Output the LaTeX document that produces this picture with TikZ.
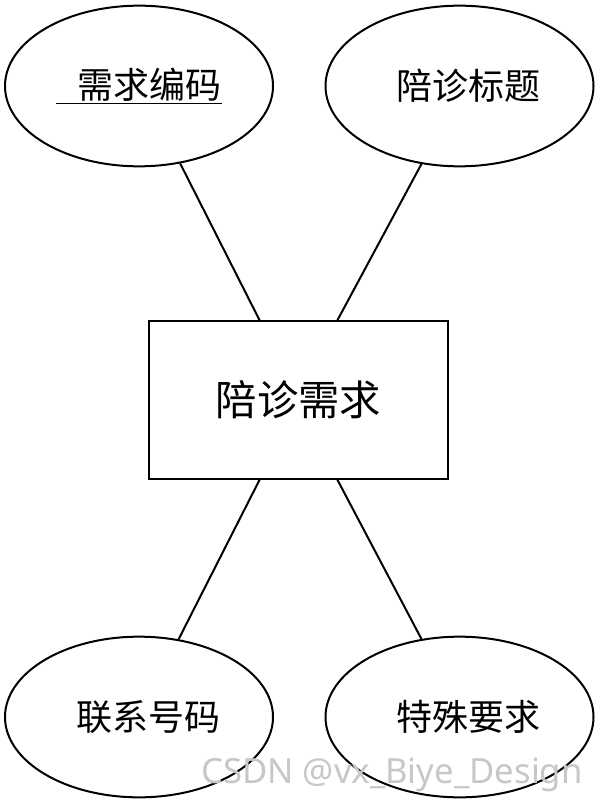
\documentclass[tikz,border=0pt]{standalone}
\usepackage{fontspec}
\newfontfamily\cjk{Noto Sans CJK SC}
\newfontfamily\wmfont{Noto Sans}
\usetikzlibrary{shapes.geometric}

\tikzset{
	attr/.style={ellipse, draw, line width=1.5pt, inner sep=0pt,
		minimum width=201pt, minimum height=120.5pt, font=\cjk\fontsize{27}{31}\selectfont},
	entity/.style={rectangle, draw, line width=1.5pt, inner sep=0pt,
		minimum width=224pt, minimum height=118pt, font=\cjk\fontsize{31}{35}\selectfont},
	link/.style={line width=1.5pt}
}

\begin{document}
\begin{tikzpicture}[x=0.75pt,y=-0.75pt]
	\useasboundingbox (0,0) rectangle (596,802);
	
	%entity
	\node[entity] (demand) at (298.5,400) {陪诊需求};
	
	%top attributes
	\node[attr] (code)  at (139,86)  {\underline{\hspace{0.6em}需求编码}};
	\node[attr] (title) at (459.5,86) {\hspace{0.5em}陪诊标题};
	
	%bottom attributes
	\node[attr] (phone)   at (139,717)  {\hspace{0.5em}联系号码};
	\node[attr] (special) at (459.5,717) {\hspace{0.5em}特殊要求};
	
		%lines
		\draw[link] (demand.116)  -- (code.-62);		%demand--code
		\draw[link] (demand.64)   -- (title.-116);		%demand--title
		\draw[link] (demand.-116) -- (phone.63);		%demand--phone
		\draw[link] (demand.-64)  -- (special.116);	%demand--special
	
	%watermark
	\node[text=black!22, font=\wmfont\fontsize{26}{30}\selectfont] (mark) at (392,775) {CSDN @vx\_Biye\_Design};
\end{tikzpicture}
\end{document}
